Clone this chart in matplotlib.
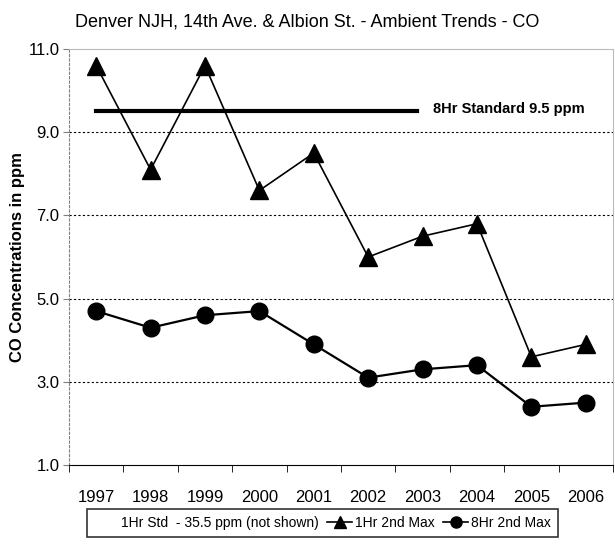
import matplotlib
matplotlib.use("Agg")
import matplotlib.pyplot as plt
from matplotlib.lines import Line2D

years = ["1997", "1998", "1999", "2000", "2001", "2002", "2003", "2004", "2005", "2006"]
max_1hr = [10.6, 8.1, 10.6, 7.6, 8.5, 6.0, 6.5, 6.8, 3.6, 3.9]
max_8hr = [4.7, 4.3, 4.6, 4.7, 3.9, 3.1, 3.3, 3.4, 2.4, 2.5]
std_8hr = 9.5
std_span = [0, 5.9]
yticks = [1.0, 3.0, 5.0, 7.0, 9.0, 11.0]

plt.rcParams["font.family"] = ["Liberation Sans", "DejaVu Sans"]

fig = plt.figure(figsize=(6.15, 5.44), dpi=100)
ax = fig.add_axes([0.1122, 0.1452, 0.8845, 0.7647])

x = list(range(len(years)))
ax.plot(x, max_1hr, color="black", lw=1.2, marker="^", ms=13, mfc="black", mec="black")
ax.plot(x, max_8hr, color="black", lw=1.6, marker="o", ms=12, mfc="black", mec="black")
ax.plot(std_span, [std_8hr, std_8hr], color="black", lw=3)
ax.text(6.2, std_8hr + 0.05, "8Hr Standard 9.5 ppm", fontsize=10.5, fontweight="bold", va="center")

ax.set_xlim(-0.5, len(years) - 0.5)
ax.set_ylim(1.0, 11.0)
ax.set_yticks(yticks)
ax.set_yticklabels([f"{v:.1f}" for v in yticks], fontsize=12)
ax.set_xticks(x)
ax.set_xticklabels(years, fontsize=12)
ax.tick_params(axis="x", which="major", length=0, pad=18)
ax.set_xticks([i - 0.5 for i in range(len(years) + 1)], minor=True)
ax.tick_params(axis="x", which="minor", length=5, color="black", direction="out")
ax.tick_params(axis="y", length=4, color="gray", direction="out", pad=3)

for v in yticks[1:-1]:
    ax.axhline(v, color="black", lw=0.8, ls=(0, (2, 2)))

ax.spines["left"].set_color("gray")
ax.spines["left"].set_linestyle((0, (2, 2)))
ax.spines["top"].set_color("#bbbbbb")
ax.spines["right"].set_color("#bbbbbb")
ax.spines["bottom"].set_color("black")

ax.set_ylabel("CO Concentrations in ppm", fontsize=12, fontweight="bold")
ax.yaxis.set_label_coords(-0.08, 0.5)
fig.suptitle("Denver NJH, 14th Ave. & Albion St. - Ambient Trends - CO", fontsize=13, y=0.975)

handles = [
    Line2D([], [], color="none"),
    Line2D([], [], color="black", marker="^", ms=9, lw=1.2),
    Line2D([], [], color="black", marker="o", ms=8, lw=1.2),
]
labels = ["1Hr Std  - 35.5 ppm (not shown)", "1Hr 2nd Max", "8Hr 2nd Max"]
leg = fig.legend(handles, labels, loc="center", bbox_to_anchor=(0.524, 0.039), ncol=3,
                 fontsize=10, frameon=True, fancybox=False, edgecolor="black",
                 handlelength=1.8, handletextpad=0.2, columnspacing=0.6, borderpad=0.5)
leg.get_frame().set_linewidth(1.2)

fig.savefig("out.png", dpi=100)
